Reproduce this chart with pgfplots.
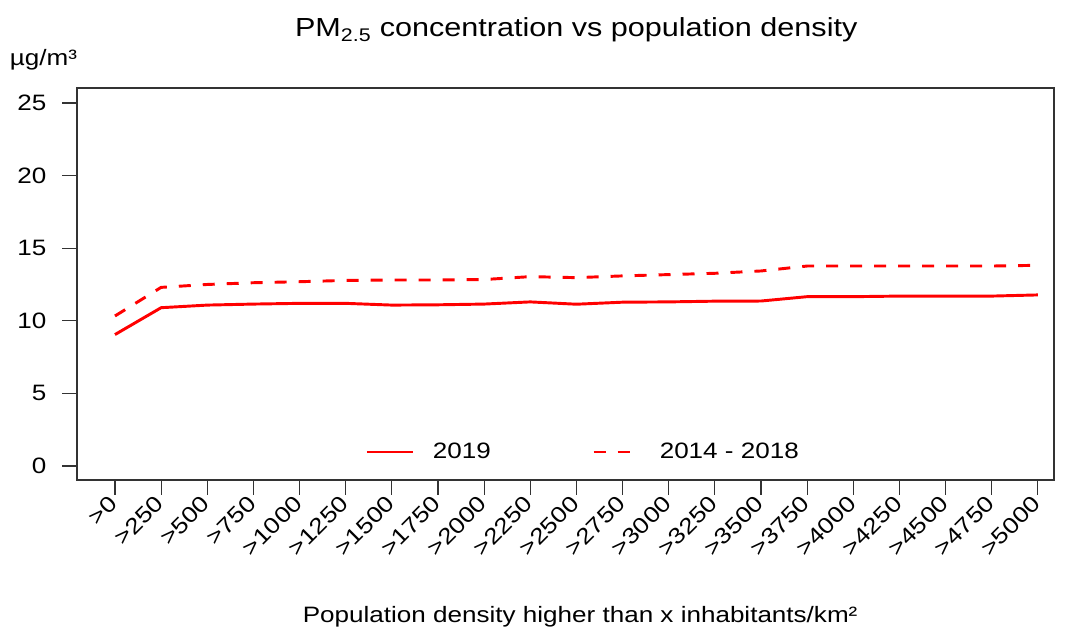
\documentclass[border=0pt]{standalone}
\usepackage{fontspec}
\setmainfont{Liberation Sans}[FakeStretch=1.17]
\usepackage{pgfplots}
\pgfplotsset{compat=1.18}
\begin{document}
\begin{tikzpicture}[x=1pt,y=1pt]
\path[use as bounding box] (0,0) rectangle (800.25,472.5);
\begin{axis}[
  at={(57.75pt,112.5pt)}, anchor=south west,
  width=732.75pt, height=294pt, scale only axis,
  xmin=-0.823, xmax=20.35, ymin=-0.964, ymax=26.03,
  xtick={0,...,20},
  xticklabels={{>0},{>250},{>500},{>750},{>1000},{>1250},{>1500},{>1750},{>2000},{>2250},{>2500},{>2750},{>3000},{>3250},{>3500},{>3750},{>4000},{>4250},{>4500},{>4750},{>5000}},
  ytick={0,5,...,25},
  xtick pos=bottom, ytick pos=left,
  tick align=outside, major tick length=11pt,
  axis line style={black!80, line width=0.9pt},
  tick style={black!80, line width=0.9pt},
  /pgf/number format/assume math mode=true,
  ticklabel style={font=\fontsize{16.7}{20}\selectfont},
  xticklabel style={rotate=45, anchor=east, yshift=-2pt},
  yticklabel style={xshift=-8.5pt},
  title={PM\textsubscript{2.5} concentration vs population density},
  title style={font=\fontsize{19.6}{24}\selectfont, at={(axis description cs:0.511,1.127)}, anchor=center},
  xlabel={Population density higher than x inhabitants/km²},
  xlabel style={font=\fontsize{16.7}{20}\selectfont, at={(axis description cs:0.515,-0.349)}, anchor=center},
  ylabel={µg/m³},
  every axis y label/.style={at={(axis description cs:-0.0343,1.071)}, anchor=center, font=\fontsize{16.7}{20}\selectfont},
  legend columns=2,
  legend style={draw=none, fill=none, inner sep=0pt, at={(axis description cs:0.2948,0.0714)}, anchor=west, font=\fontsize{16.7}{20}\selectfont,
    /tikz/every odd column/.append style={column sep=11.5pt},
    /tikz/every even column/.append style={column sep=74pt}},
  legend cell align=left,
  legend image code/.code={\draw[#1] (0pt,0pt) -- (35pt,0pt);},
]
\addplot[red, line width=2.2pt] coordinates {
(0,9.05) (1,10.9) (2,11.08) (3,11.15) (4,11.2) (5,11.2) (6,11.08) (7,11.1) (8,11.15) (9,11.3) (10,11.14) (11,11.28) (12,11.3) (13,11.35) (14,11.36) (15,11.66) (16,11.66) (17,11.7) (18,11.7) (19,11.7) (20,11.78)};
\addlegendentry{2019}
\addplot[red, line width=2.2pt, dash pattern=on 9pt off 9pt] coordinates {
(0,10.33) (1,12.3) (2,12.5) (3,12.62) (4,12.69) (5,12.78) (6,12.81) (7,12.81) (8,12.84) (9,13.04) (10,12.97) (11,13.09) (12,13.18) (13,13.27) (14,13.43) (15,13.77) (16,13.77) (17,13.77) (18,13.77) (19,13.77) (20,13.82)};
\addlegendentry{2014 - 2018}
\end{axis}
\end{tikzpicture}
\end{document}
